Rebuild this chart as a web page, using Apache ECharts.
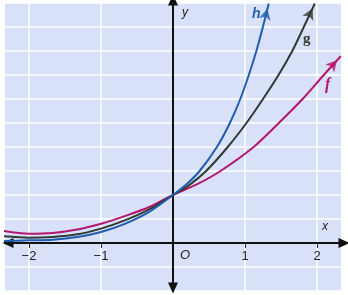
<!DOCTYPE html>
<html>
<head>
<meta charset="utf-8">
<script src="https://cdn.jsdelivr.net/npm/echarts@6/dist/echarts.min.js"></script>
<style>
html,body{margin:0;padding:0;background:#fff;}
#c{width:348px;height:295px;}
</style>
</head>
<body>
<div id="c"></div>
<script>
// Data (x in axis units, y in half-grid units: y=1 at intercept)
const xTickLabels = [-2, -1, 1, 2];
const fX = [-2.35, -2.0, -1.67, -1.33, -1.0, -0.67, -0.33, 0, 0.33, 0.66, 1.12, 1.47, 1.80, 2.10, 2.33];
const fY = [0.25, 0.195, 0.21, 0.28, 0.40, 0.56, 0.75, 1, 1.22, 1.5, 2.0, 2.5, 3.0, 3.51, 3.89];
const gX = [-2.35, -2.0, -1.67, -1.33, -1.0, -0.67, -0.33, 0, 0.22, 0.46, 0.76, 1.02, 1.25, 1.47, 1.66, 1.82, 1.97];
const gY = [0.14, 0.11, 0.125, 0.18, 0.30, 0.47, 0.70, 1, 1.2, 1.5, 2.0, 2.5, 3.0, 3.51, 4.01, 4.51, 4.99];
const hX = [-2.35, -2.0, -1.67, -1.33, -1.0, -0.67, -0.33, 0, 0.2, 0.37, 0.61, 0.79, 0.935, 1.055, 1.16, 1.25, 1.33];
const hY = [0.04, 0.056, 0.07, 0.125, 0.23, 0.40, 0.65, 1, 1.24, 1.5, 2.0, 2.5, 3.0, 3.51, 4.01, 4.51, 4.99];

const colors = {f: '#b3176f', g: '#2f3b34', h: '#1f5db0'};
const curves = [
  {name: 'f', xs: fX, ys: fY},
  {name: 'g', xs: gX, ys: gY},
  {name: 'h', xs: hX, ys: hY}
];

const chart = echarts.init(document.getElementById('c'), null, {renderer: 'canvas'});

function pts(c) { return c.xs.map((x, i) => [x, c.ys[i]]); }

const baseSeries = curves.map(c => ({
  type: 'line', name: c.name, data: pts(c), smooth: 0.3, showSymbol: false,
  lineStyle: {color: colors[c.name], width: 2}, z: 5, silent: true
}));

const font = 'Arial, Liberation Sans, sans-serif';
const option = {
  animation: false,
  grid: {left: 5, right: 7, top: 3, bottom: 4, containLabel: false, outerBoundsMode: 'none',
    show: true, backgroundColor: '#d8e1f7', borderWidth: 0},
  xAxis: {
    type: 'value', min: -7/3, max: 7/3, interval: 1/3, position: 'bottom', offset: -48,
    axisLine: {onZero: false, lineStyle: {color: '#111', width: 2}, symbol: ['triangle', 'triangle'], symbolSize: [10, 11], symbolOffset: [3, 3]},
    axisTick: {show: true, customValues: xTickLabels, length: 5, lineStyle: {color: '#222', width: 1}},
    axisLabel: {customValues: xTickLabels, fontSize: 13, color: '#222', margin: 7, fontFamily: font,
      formatter: v => (v < 0 ? '\u2212' + Math.abs(v) : '' + v)},
    splitLine: {show: true, lineStyle: {color: '#ffffff', width: 1.5}}
  },
  yAxis: {
    type: 'value', min: -1, max: 5, interval: 0.5, position: 'left', offset: -168,
    axisLine: {onZero: false, lineStyle: {color: '#111', width: 2}, symbol: ['triangle', 'triangle'], symbolSize: [10, 11], symbolOffset: [3, 3]},
    axisTick: {show: false}, axisLabel: {show: false},
    splitLine: {show: true, lineStyle: {color: '#ffffff', width: 1.5}}
  },
  graphic: [
    {type: 'text', left: 182, top: 7, style: {text: 'y', font: 'italic 12px ' + font, fill: '#222'}},
    {type: 'text', left: 322, top: 221, style: {text: 'x', font: 'italic 12px ' + font, fill: '#222'}},
    {type: 'text', left: 180, top: 249, style: {text: 'O', font: 'italic 13px ' + font, fill: '#222'}},
    {type: 'text', left: 252, top: 7, style: {text: 'h', font: 'italic bold 14px ' + font, fill: colors.h}},
    {type: 'text', left: 303, top: 32, style: {text: 'g', font: 'bold 15px Liberation Serif, DejaVu Serif, serif', fill: colors.g}},
    {type: 'text', left: 325, top: 77, style: {text: 'f', font: 'italic bold 16px Liberation Serif, DejaVu Serif, serif', fill: colors.f}}
  ],
  series: baseSeries
};
chart.setOption(option);

// arrowheads at both ends, oriented along the curve in pixel space
const L = 11;
const arrowSeries = curves.map(c => {
  const p = pts(c);
  const ends = [[p[0], p[1]], [p[p.length - 1], p[p.length - 2]]];
  const data = ends.map(([tip, prev]) => {
    const a = chart.convertToPixel({gridIndex: 0}, tip);
    const b = chart.convertToPixel({gridIndex: 0}, prev);
    const dx = a[0] - b[0], dy = a[1] - b[1];
    const len = Math.hypot(dx, dy) || 1;
    const ux = dx / len, uy = dy / len;
    const rot = Math.atan2(-ux, -uy) * 180 / Math.PI;
    return {value: tip, symbolRotate: rot, symbolOffset: [-ux * L / 2, -uy * L / 2]};
  });
  return {type: 'scatter', data, symbol: 'arrow', symbolSize: [9, L], itemStyle: {color: colors[c.name]}, z: 6, silent: true};
});
chart.setOption({series: baseSeries.concat(arrowSeries)});
</script>
</body>
</html>
